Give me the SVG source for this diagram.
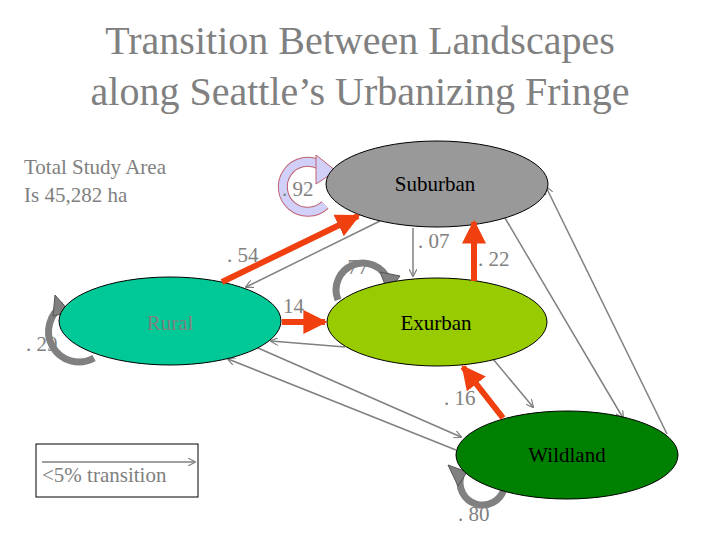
<svg xmlns="http://www.w3.org/2000/svg" width="720" height="540" viewBox="0 0 720 540">
<style>
.t{font-family:"Liberation Serif",serif;}
.lbl{font-family:"Liberation Serif",serif;font-size:21px;fill:#808080;}
.node{stroke:#000;stroke-width:1;}
.thin{stroke:#808080;stroke-width:1.5;fill:none;marker-end:url(#ga);}
.red{stroke:#f04010;stroke-width:6;fill:none;marker-end:url(#ra);}
.loop{fill:none;stroke:#808080;stroke-width:7;}
</style>
<defs>
<marker id="ga" viewBox="0 0 10 10" refX="9" refY="5" markerWidth="8" markerHeight="8" markerUnits="userSpaceOnUse" orient="auto"><path d="M0,0L10,5L0,10" fill="none" stroke="#808080" stroke-width="1.5"/></marker>
<marker id="ra" viewBox="0 0 10 10" refX="9" refY="5" markerWidth="4" markerHeight="4" orient="auto"><path d="M0,0L10,5L0,10z" fill="#f04010"/></marker>
</defs>
<rect width="720" height="540" fill="#fff"/>
<text class="t" x="360" y="54" font-size="40" fill="#808080" text-anchor="middle">Transition Between Landscapes</text>
<text class="t" x="360" y="105" font-size="40" fill="#808080" text-anchor="middle">along Seattle’s Urbanizing Fringe</text>
<text class="t" x="24" y="174" font-size="21" fill="#808080">Total Study Area</text>
<text class="t" x="24" y="202" font-size="21" fill="#808080">Is 45,282 ha</text>
<g id="loops">
<path d="M325,205 A25,25 0 1 1 320,165" fill="none" stroke="#c06070" stroke-width="10"/>
<path d="M325,205 A25,25 0 1 1 320,165" fill="none" stroke="#d0d0f8" stroke-width="8"/>
<polygon points="316,155 336,171 316,184" fill="#d0d0f8" stroke="#c06070" stroke-width="1"/>
<path d="M338,300 A22,22 0 1 1 388,280" class="loop"/>
<polygon points="380,272 400,276 388,292" fill="#808080" stroke="#555" stroke-width="1"/>
<path d="M94,358 A27,27 0 1 1 64,305" class="loop"/>
<polygon points="55,295 70,312 53,316" fill="#808080" stroke="#555" stroke-width="1"/>
<path d="M504,489 A20,20 0 1 1 461,476" class="loop"/>
<polygon points="448,465 467,472 458,486" fill="#808080" stroke="#555" stroke-width="1"/>
</g>
<g id="connectors">
<line x1="380" y1="221" x2="246" y2="287" class="thin"/>
<line x1="413" y1="228" x2="413" y2="276" class="thin"/>
<line x1="345" y1="347" x2="271" y2="341" class="thin"/>
<line x1="258" y1="348" x2="461" y2="437" class="thin"/>
<line x1="456" y1="450" x2="228" y2="359" class="thin"/>
<line x1="493" y1="359" x2="533" y2="407" class="thin"/>
<line x1="505" y1="218" x2="623" y2="418" class="thin"/>
<line x1="667" y1="434" x2="546" y2="187" class="thin"/>
<line x1="42" y1="462" x2="195" y2="462" class="thin"/>
</g>
<g id="rural"><ellipse cx="170" cy="321" rx="111" ry="44" fill="#00c896" class="node"/><text class="t" x="170" y="330" font-size="21" fill="#808080" text-anchor="middle">Rural</text></g>
<g id="suburban"><ellipse cx="437" cy="184" rx="111" ry="43" fill="#999999" class="node"/><text class="t" x="435" y="191" font-size="21" fill="#000" text-anchor="middle">Suburban</text></g>
<g id="exurban"><ellipse cx="437" cy="322" rx="110" ry="44" fill="#99cc00" class="node"/><text class="t" x="436" y="330" font-size="21" fill="#000" text-anchor="middle">Exurban</text></g>
<g id="wildland"><ellipse cx="567" cy="455" rx="111" ry="44" fill="#008000" class="node"/><text class="t" x="567" y="462" font-size="21" fill="#000" text-anchor="middle">Wildland</text></g>
<g id="red">
<line x1="222" y1="282" x2="358" y2="216" class="red"/>
<line x1="474" y1="281" x2="474" y2="222" class="red"/>
<line x1="282" y1="322" x2="325" y2="322" class="red"/>
<line x1="503" y1="418" x2="463" y2="367" class="red"/>
</g>
<g id="labels">
<text class="lbl" x="282" y="196">. 92</text>
<text class="lbl" x="227" y="262">. 54</text>
<text class="lbl" x="337" y="274">. 77</text>
<text class="lbl" x="418" y="248">. 07</text>
<text class="lbl" x="478" y="266">. 22</text>
<text class="lbl" x="283" y="313">14</text>
<text class="lbl" x="26" y="351">. 29</text>
<text class="lbl" x="444" y="405">. 16</text>
<text class="lbl" x="458" y="521">. 80</text>
</g>
<g id="legend"><rect x="36" y="444" width="162" height="53" fill="none" stroke="#000" stroke-width="1"/><text class="t" x="42" y="482" font-size="21" fill="#808080">&lt;5% transition</text></g>
</svg>
